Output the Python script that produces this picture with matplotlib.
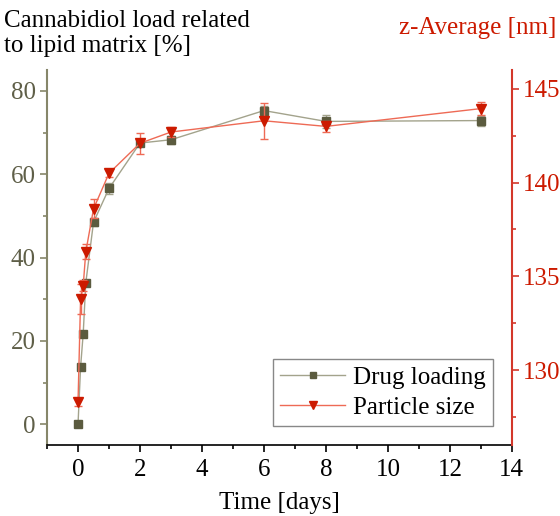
import numpy as np
import matplotlib.pyplot as plt
from matplotlib.lines import Line2D
from matplotlib.ticker import MultipleLocator

plt.rcParams['font.family'] = ['Liberation Serif', 'DejaVu Serif']

# Данные: время (сутки)
time_days = [0, 0.083, 0.167, 0.25, 0.5, 1, 2, 3, 6, 8, 13]

# Загрузка каннабидиола [%]
drug_load = [0, 13.8, 21.7, 33.9, 48.5, 56.6, 67.5, 68.3, 75.3, 72.7, 72.9]
drug_err = [0.3, 0.5, 0.5, 0.6, 0.8, 1.4, 0.8, 1.0, 1.2, 1.5, 1.2]

# Размер частиц z-Average [nm]
z_avg = [128.3, 133.8, 134.5, 136.3, 138.6, 140.5, 142.1, 142.7, 143.3, 143.0, 143.95]
z_err = [0.2, 0.8, 0.3, 0.4, 0.5, 0.2, 0.55, 0.25, 0.95, 0.3, 0.35]

olive_dark = '#5b5b3f'
olive_line = '#a3a38c'
olive_axis = '#86866a'
red_mark = '#cc1a00'
red_line = '#ee6a55'
red_axis = '#d3372a'
fs = 18

fig = plt.figure(figsize=(5.6, 5.16), dpi=100)
ax = fig.add_axes([0.084, 0.1376, 0.83, 0.7264])
ax2 = ax.twinx()

ax.errorbar(time_days, drug_load, yerr=drug_err, color=olive_line, lw=1,
            marker='s', ms=6, mfc=olive_dark, mec=olive_dark,
            ecolor=olive_line, elinewidth=1, capsize=3)
ax2.errorbar(time_days, z_avg, yerr=z_err, color=red_line, lw=1,
             marker='v', ms=7.5, mfc=red_mark, mec=red_mark,
             ecolor=red_line, elinewidth=1, capsize=3)

ax.set_xlim(-1, 14)
ax.set_ylim(-5, 85)
ax2.set_ylim(126, 146)

ax.xaxis.set_major_locator(MultipleLocator(2))
ax.xaxis.set_minor_locator(MultipleLocator(1))
ax.yaxis.set_major_locator(MultipleLocator(20))
ax.yaxis.set_minor_locator(MultipleLocator(10))
ax2.yaxis.set_major_locator(MultipleLocator(5))
ax2.yaxis.set_minor_locator(MultipleLocator(2.5))

for a in (ax, ax2):
    a.spines['top'].set_visible(False)
ax2.spines['left'].set_visible(False)
ax2.spines['bottom'].set_visible(False)
ax.spines['right'].set_visible(False)
ax.spines['left'].set_color(olive_axis)
ax.spines['left'].set_linewidth(1.5)
ax2.spines['right'].set_color(red_axis)
ax2.spines['right'].set_linewidth(1.5)
ax.spines['bottom'].set_linewidth(1.2)

ax.tick_params(axis='x', which='major', length=5, width=1.2, labelsize=fs, pad=5)
ax.tick_params(axis='x', which='minor', length=3, width=1.2)
ax.tick_params(axis='y', which='major', length=5, width=1.2, color=olive_axis,
               labelcolor='#5f5f48', labelsize=fs, pad=3)
ax.tick_params(axis='y', which='minor', length=3, width=1.2, color=olive_axis)
ax2.tick_params(axis='y', which='major', length=5, width=1.2, color=red_axis,
                labelcolor=red_mark, labelsize=fs, pad=3)
ax2.tick_params(axis='y', which='minor', length=3, width=1.2, color=red_axis)

ax.set_xlabel('Time [days]', fontsize=fs, labelpad=8)
fig.text(0.008, 0.98, 'Cannabidiol load related\nto lipid matrix [%]', fontsize=fs,
         ha='left', va='top', linespacing=1.15)
fig.text(0.993, 0.945, 'z-Average [nm]', fontsize=fs, color=red_mark,
         ha='right', va='center')

h1 = Line2D([], [], color=olive_line, lw=1, marker='s', ms=5,
            mfc=olive_dark, mec=olive_dark)
h2 = Line2D([], [], color=red_line, lw=1, marker='v', ms=6,
            mfc=red_mark, mec=red_mark)
leg = ax.legend([h1, h2], ['Drug loading', 'Particle size'], loc='lower right',
                bbox_to_anchor=(0.96, 0.05), fontsize=fs, fancybox=False,
                framealpha=1, edgecolor='#888888', handlelength=2.6,
                borderpad=0.3, handletextpad=0.3, labelspacing=0.3,
                borderaxespad=0)
leg.get_frame().set_linewidth(1)

fig.savefig('out.png', dpi=100)
